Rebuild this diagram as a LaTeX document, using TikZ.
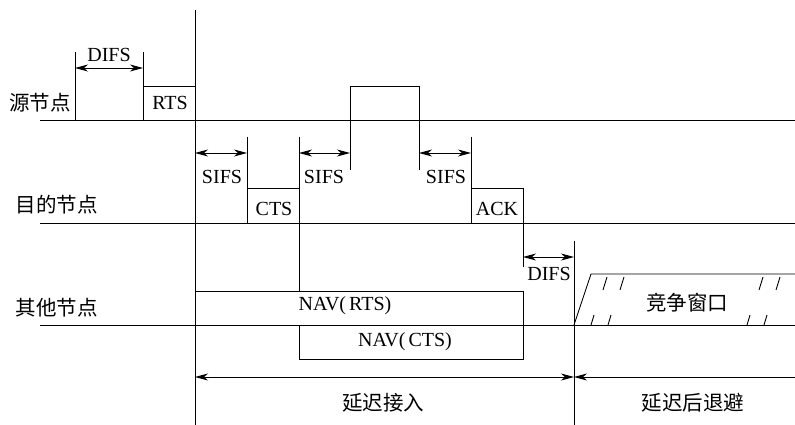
\documentclass[tikz,border=0pt]{standalone}
\usepackage{fontspec}
\setmainfont{Liberation Serif}
\newfontfamily\cjk{Noto Sans CJK SC}
\usetikzlibrary{arrows.meta}
\tikzset{
  lbl/.style={font=\fontsize{20}{22}\selectfont, inner sep=0pt},
  cn/.style={font=\cjk\fontsize{20.5}{22}\selectfont, inner sep=0pt},
}
\begin{document}
\begin{tikzpicture}[x=1pt, y=-1pt, line width=0.9pt,
    >={Stealth[length=13pt,width=7pt,inset=4pt]}]
    \useasboundingbox (0,0) rectangle (795,425);
    % time axes of the three stations
    \foreach \y in {120,223,325}{
        \draw (40,\y)--(795,\y);
    }
    \node[cn, anchor=east] at (71,103) {源节点};
    \node[cn, anchor=east] at (98,205) {目的节点};
    \node[cn, anchor=east] at (98,308) {其他节点};
    \draw (195,10)--(195,425);
    \draw (574,241)--(574,425);
    % source: DIFS, RTS, data
    \draw (75,52)--(75,120);
    \draw (143,52)--(143,120);
    \draw[<->] (75,68)--(143,68);
    \node[lbl] at (109,55) {DIFS};
    \draw (143,120)--(143,86)--(195,86);
    \node[lbl] at (170,103) {RTS};
    \draw (350,170)--(350,86)--(419,86)--(419,170);
    % destination: SIFS, CTS, SIFS, ACK
    \draw[<->] (195,153)--(247,153);
    \node[lbl] at (222,177) {SIFS};
    \draw (247,137)--(247,223);
    \draw (247,188)--(299,188);
    \node[lbl] at (274,209) {CTS};
    \draw (299,137)--(299,291);
    \draw[<->] (299,153)--(350,153);
    \node[lbl] at (324,177) {SIFS};
    \draw[<->] (419,153)--(471,153);
    \node[lbl] at (446,177) {SIFS};
    \draw (471,137)--(471,223);
    \draw (471,188)--(523,188)--(523,267);
    \node[lbl] at (497,209) {ACK};
    % other stations: NAV and contention window
    \draw (195,291)--(523,291)--(523,325);
    \node[lbl] at (345,306) {NAV(\hspace{3pt}RTS)};
    \draw (299,325)--(299,359)--(523,359)--(523,325);
    \node[lbl] at (405,342) {NAV(\hspace{3pt}CTS)};
    \draw[<->] (523,257)--(574,257);
    \node[lbl] at (549,274) {DIFS};
    \draw (574,325)--(591,274)--(795,274);
    \foreach \x in {607,624,763,780}{
        \draw (\x,277)--(\x-4,290);
    }
    \foreach \x in {594,611,750,767}{
        \draw (\x,315)--(\x-3,325);
    }
    \node[cn] at (687,303) {竞争窗口};
    % deferral spans
    \draw[<->] (195,377)--(574,377);
    \draw[<-] (574,377)--(795,377);
    \node[cn] at (383,403) {延迟接入};
    \node[cn] at (693,403) {延迟后退避};
\end{tikzpicture}
\end{document}
